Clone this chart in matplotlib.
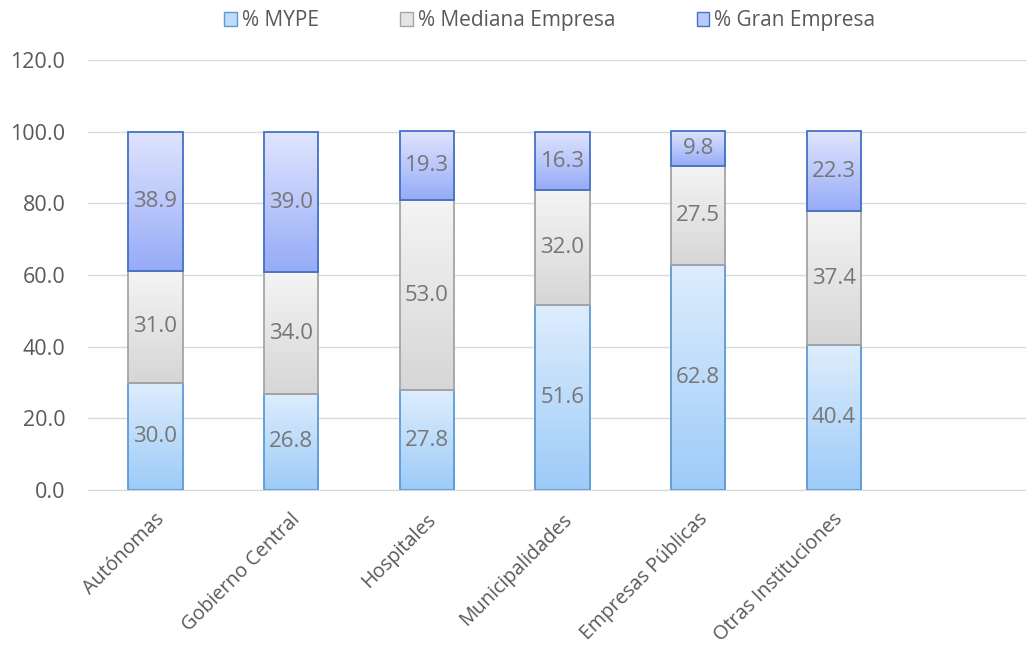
import matplotlib.pyplot as plt
import matplotlib.colors as mcolors
import matplotlib.transforms as mtransforms
import numpy as np
from matplotlib.patches import Patch

categories = ["Autónomas", "Gobierno Central", "Hospitales", "Municipalidades",
              "Empresas Públicas", "Otras Instituciones"]
mype = [30.0, 26.8, 27.8, 51.6, 62.8, 40.4]
mediana = [31.0, 34.0, 53.0, 32.0, 27.5, 37.4]
gran = [38.9, 39.0, 19.3, 16.3, 9.8, 22.3]
series_names = ["% MYPE", "% Mediana Empresa", "% Gran Empresa"]

# top colour, bottom colour, edge colour
styles = [("#deedfd", "#9dcbf8", "#5b9bd5"),
          ("#f4f4f4", "#d6d6d6", "#a5a5a5"),
          ("#e0e5fd", "#96abf8", "#4472c4")]

plt.rcParams["font.family"] = ["Open Sans", "DejaVu Sans"]
fig = plt.figure(figsize=(10.26, 6.49), dpi=100)
# plot area runs past the right edge: 7 category slots, the last one empty
ax = fig.add_axes([0.0853, 0.245, 0.926, 0.6625])

x = np.arange(len(categories))
width = 0.40
bottoms = np.zeros(len(categories))
for values, name, (ctop, cbot, cedge) in zip([mype, mediana, gran], series_names, styles):
    bars = ax.bar(x, values, width, bottom=bottoms, color="none", edgecolor=cedge,
                  linewidth=1.3, zorder=3, label=name)
    cmap = mcolors.LinearSegmentedColormap.from_list("g", [cbot, ctop])
    grad = np.linspace(0, 1, 256).reshape(-1, 1)
    for bar in bars:
        bx, by = bar.get_x(), bar.get_y()
        im = ax.imshow(grad, cmap=cmap, origin="lower", aspect="auto",
                       extent=[bx, bx + bar.get_width(), by, by + bar.get_height()],
                       zorder=2)
        im.set_clip_path(bar)
    for xi, b, v in zip(x, bottoms, values):
        ax.text(xi, b + v / 2, f"{v:.1f}", ha="center", va="center",
                fontsize=16, color="#767676", zorder=4)
    bottoms += np.array(values)

ax.set_xlim(-0.5, 6.5)
ax.set_ylim(0, 120)
ax.set_yticks(np.arange(0, 121, 20))
ax.set_yticklabels([f"{v:.1f}" for v in np.arange(0, 121, 20)])
ax.set_xticks(x)
ax.set_xticklabels(categories, rotation=45, ha="right", va="top", rotation_mode="anchor")
ax.tick_params(axis="y", length=0, labelsize=15.5, labelcolor="#595959", pad=16)
ax.tick_params(axis="x", length=0, labelsize=14.2, labelcolor="#595959", pad=14)
shift = mtransforms.ScaledTranslation(-1 / 100, 0, fig.dpi_scale_trans)
for lab in ax.get_xticklabels():
    lab.set_transform(lab.get_transform() + shift)
ax.grid(axis="y", color="#d9d9d9", linewidth=1, zorder=0)
ax.set_axisbelow(True)
for s in ["top", "right", "left"]:
    ax.spines[s].set_visible(False)
ax.spines["bottom"].set_color("#d9d9d9")

handles = [Patch(facecolor=mcolors.to_hex(np.mean([mcolors.to_rgb(a), mcolors.to_rgb(b)], axis=0)),
                 edgecolor=e, label=n) for n, (a, b, e) in zip(series_names, styles)]
fig.legend(handles=handles, loc="center", bbox_to_anchor=(0.536, 0.968), ncol=3,
           frameon=False, fontsize=15, handlelength=0.6, handleheight=0.6,
           handletextpad=0.25, columnspacing=3.9, labelcolor="#595959",
           borderpad=0, borderaxespad=0)

fig.savefig("out.png", dpi=100)
